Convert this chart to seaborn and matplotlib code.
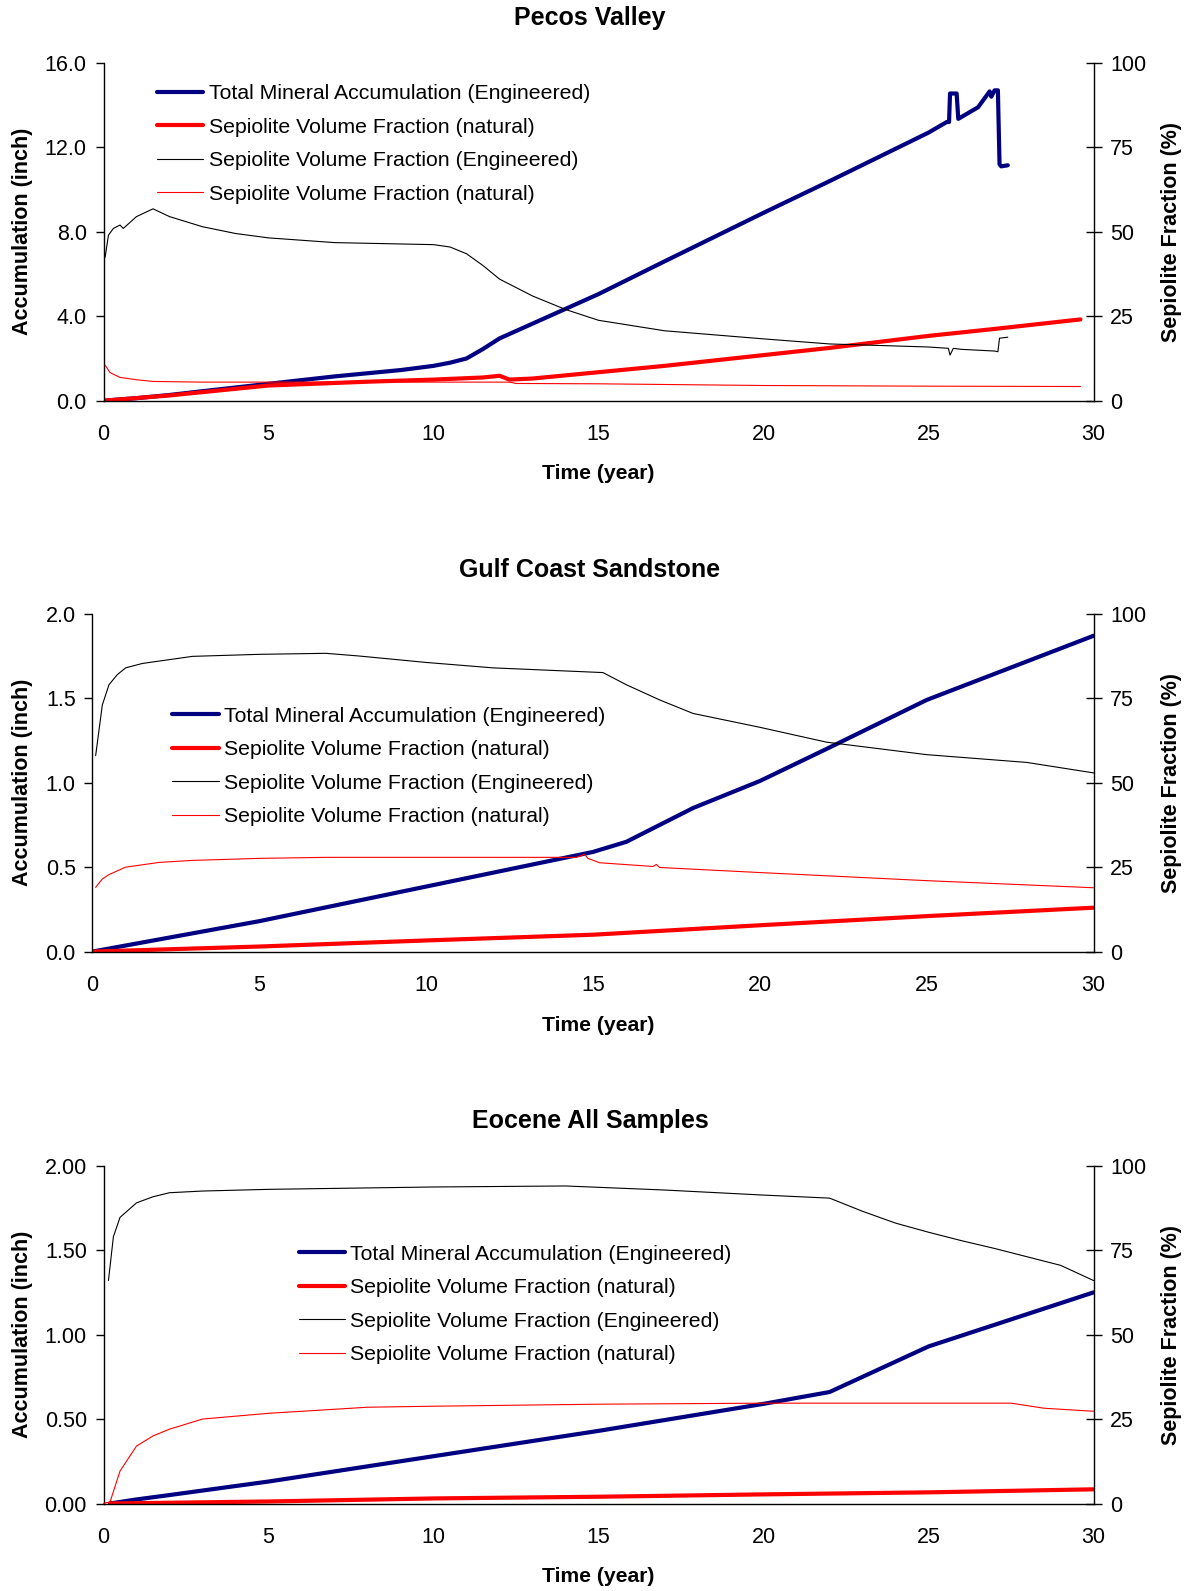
import numpy as np
import pandas as pd
import matplotlib
matplotlib.use('Agg')
import matplotlib.pyplot as plt
import seaborn as sns

sns.set_style('white')
plt.rcParams['font.family'] = ['Liberation Sans', 'DejaVu Sans']
plt.rcParams['text.color'] = '#000000'
plt.rcParams['axes.labelcolor'] = '#000000'
plt.rcParams['xtick.color'] = '#000000'
plt.rcParams['ytick.color'] = '#000000'

# ---------------- Pecos Valley ----------------
pv_tot_t = [0, 1, 2, 3, 5, 7, 9, 10, 10.5, 11, 11.5, 12, 13, 14, 15, 17, 20, 22, 25, 25.55,
            25.62, 25.65, 25.85, 25.9, 26.5, 26.85, 26.9, 27.0, 27.1, 27.15, 27.2, 27.4]
pv_tot_v = [0, 0.12, 0.27, 0.45, 0.8, 1.15, 1.45, 1.65, 1.8, 2.0, 2.45, 2.95, 3.65, 4.35, 5.05,
            6.6, 8.9, 10.4, 12.7, 13.2, 13.2, 14.55, 14.55, 13.35, 13.9, 14.65, 14.4, 14.7, 14.7, 11.2, 11.1, 11.15]
pv_nat_t = [0, 2, 5, 8, 10, 11.5, 12.0, 12.3, 13, 15, 17, 20, 22, 25, 27, 29.6]
pv_nat_v = [0, 0.25, 0.72, 0.9, 1.0, 1.1, 1.18, 1.0, 1.05, 1.35, 1.65, 2.16, 2.5, 3.07, 3.4, 3.85]
pv_eng_t = [0.05, 0.15, 0.3, 0.5, 0.6, 1.0, 1.5, 2.0, 3, 4, 5, 7, 9, 10, 10.5, 11, 11.5, 12, 13, 14,
            15, 17, 20, 22, 25, 25.6, 25.65, 25.75, 26, 27, 27.1, 27.15, 27.4]
pv_eng_v = [42.5, 49, 51, 52, 51, 54.5, 56.8, 54.5, 51.5, 49.5, 48.2, 46.8, 46.4, 46.2, 45.5, 43.5,
            40, 36, 31, 27, 23.8, 20.7, 18.3, 16.8, 15.9, 15.5, 13.5, 15.5, 15.2, 14.7, 14.5, 18.5, 18.8]
pv_fnat_t = [0.05, 0.2, 0.5, 1.0, 1.5, 3, 6, 9, 12.3, 12.5, 15, 17, 20, 25, 29.6]
pv_fnat_v = [10.5, 8.3, 6.9, 6.2, 5.7, 5.5, 5.5, 5.5, 5.5, 5.1, 5.0, 4.8, 4.5, 4.3, 4.2]

# ---------------- Gulf Coast Sandstone ----------------
gc_tot_t = [0, 5, 10, 15, 15.5, 16, 17, 18, 20, 22, 25, 30]
gc_tot_v = [0, 0.18, 0.385, 0.59, 0.62, 0.65, 0.75, 0.85, 1.01, 1.2, 1.49, 1.87]
gc_nat_t = [0, 5, 10, 15, 20, 25, 30]
gc_nat_v = [0, 0.03, 0.066, 0.10, 0.156, 0.21, 0.26]
gc_eng_t = [0.1, 0.3, 0.5, 0.75, 1, 1.5, 2, 3, 5, 7, 8, 10, 12, 15.3, 16, 17, 18, 20, 22, 25, 28, 30]
gc_eng_v = [58, 73, 79, 82, 84, 85.3, 86, 87.4, 88, 88.3, 87.5, 85.6, 84, 82.6, 79, 74.5, 70.5,
            66.4, 62, 58.3, 56, 52.9]
gc_fnat_t = [0.1, 0.3, 0.5, 1, 2, 3, 5, 7, 14.5, 14.75, 14.85, 15.2, 16.8, 16.9, 17.0, 20, 25, 30]
gc_fnat_v = [19, 21.5, 22.8, 25, 26.4, 27, 27.6, 27.9, 27.9, 28.8, 27.6, 26.3, 25.2, 25.8, 24.9,
             23.4, 21, 18.9]

# ---------------- Eocene All Samples ----------------
eo_tot_t = [0.2, 1, 2, 5, 10, 15, 20, 22, 25, 30]
eo_tot_v = [0, 0.024, 0.05, 0.13, 0.28, 0.43, 0.59, 0.66, 0.93, 1.25]
eo_nat_t = [0.2, 5, 10, 15, 20, 25, 30]
eo_nat_v = [0, 0.012, 0.03, 0.04, 0.054, 0.066, 0.084]
eo_eng_t = [0.15, 0.3, 0.5, 1, 1.5, 2, 3, 5, 10, 14, 17, 20, 22, 23, 24, 25, 26, 27, 28, 29, 30]
eo_eng_v = [66, 79, 84.7, 89, 90.8, 92, 92.5, 93, 93.7, 94, 92.8, 91.3, 90.4, 86.5, 83, 80.3,
            77.8, 75.5, 73, 70.5, 66]
eo_fnat_t = [0, 0.2, 0.5, 1, 1.5, 2, 3, 5, 8, 10, 15, 20, 27.5, 28.5, 30]
eo_fnat_v = [0, 0.5, 9.6, 17, 20, 22, 25, 26.7, 28.5, 28.8, 29.4, 29.7, 29.7, 28.2, 27.3]

labels = ['Total Mineral Accumulation (Engineered)',
          'Sepiolite Volume Fraction (natural)',
          'Sepiolite Volume Fraction (Engineered)',
          'Sepiolite Volume Fraction (natural)']

panels = [
    dict(title='Pecos Valley', rect=[103.5, 62.9, 1093.6, 400.7], ylim=16.0,
         yticks=[0, 4, 8, 12, 16], fmt='{:.1f}', leg=(0.054, 0.937), title_y=18, xlab_y=473,
         data=[(pv_tot_t, pv_tot_v), (pv_nat_t, pv_nat_v), (pv_eng_t, pv_eng_v), (pv_fnat_t, pv_fnat_v)]),
    dict(title='Gulf Coast Sandstone', rect=[92.3, 613.8, 1093.6, 951.6], ylim=2.0,
         yticks=[0, 0.5, 1.0, 1.5, 2.0], fmt='{:.1f}', leg=(0.08, 0.725), title_y=570, xlab_y=1025,
         data=[(gc_tot_t, gc_tot_v), (gc_nat_t, gc_nat_v), (gc_eng_t, gc_eng_v), (gc_fnat_t, gc_fnat_v)]),
    dict(title='Eocene All Samples', rect=[103.5, 1165.7, 1093.6, 1503.5], ylim=2.0,
         yticks=[0, 0.5, 1.0, 1.5, 2.0], fmt='{:.2f}', leg=(0.197, 0.766), title_y=1121, xlab_y=1576,
         data=[(eo_tot_t, eo_tot_v), (eo_nat_t, eo_nat_v), (eo_eng_t, eo_eng_v), (eo_fnat_t, eo_fnat_v)]),
]

W, H = 1189, 1591
fig = plt.figure(figsize=(W / 100, H / 100), dpi=100)
fig.patch.set_facecolor('white')

styles = [dict(color='#000080', lw=3.0), dict(color='#ff0000', lw=3.0),
          dict(color='#000000', lw=0.8), dict(color='#ff0000', lw=0.8)]

for p in panels:
    x0, y0, x1, y1 = p['rect']
    ax = fig.add_axes([x0 / W, 1 - y1 / H, (x1 - x0) / W, (y1 - y0) / H])
    ax2 = ax.twinx()
    handles = []
    for i, ((t, v), st) in enumerate(zip(p['data'], styles)):
        target = ax if i < 2 else ax2
        sns.lineplot(x=t, y=v, ax=target, color=st['color'], linewidth=st['lw'],
                     estimator=None, sort=False)
        handles.append(plt.Line2D([], [], color=st['color'], lw=st['lw']))

    ax.set_xlim(0, 30)
    ax.set_ylim(0, p['ylim'])
    ax2.set_ylim(0, 100)
    ax.set_xticks([0, 5, 10, 15, 20, 25, 30])
    ax.set_yticks(p['yticks'])
    ax.set_yticklabels([p['fmt'].format(y) for y in p['yticks']])
    ax2.set_yticks([0, 25, 50, 75, 100])

    for a in (ax, ax2):
        a.set_facecolor('none')
        a.spines['top'].set_visible(False)
        for s in ['left', 'right', 'bottom']:
            a.spines[s].set_color('#000000')
            a.spines[s].set_linewidth(1.0)
    ax.spines['right'].set_visible(False)
    ax2.spines['left'].set_visible(False)
    ax2.spines['bottom'].set_visible(False)

    ax.tick_params(axis='x', direction='in', length=6, width=1, labelsize=15.5, pad=17)
    ax.tick_params(axis='y', direction='out', length=6, width=1, labelsize=15.5, pad=6)
    ax2.tick_params(axis='y', direction='inout', length=12, width=1, labelsize=15.5, pad=6)

    ax.set_xlabel('Time (year)', fontsize=15.2, fontweight='bold')
    ax.xaxis.set_label_coords((598 - x0) / (x1 - x0), -(p['xlab_y'] - 9 - y1) / (y1 - y0))
    ax.set_ylabel('Accumulation (inch)', fontsize=15.5, fontweight='bold')
    ax.yaxis.set_label_coords((33 - x0) / (x1 - x0), 0.5)
    ax2.set_ylabel('Sepiolite Fraction (%)', fontsize=15.5, fontweight='bold', rotation=90)
    ax2.yaxis.set_label_coords((1161 - x0) / (x1 - x0), 0.5)

    fig.text(590 / W, 1 - p['title_y'] / H, p['title'], ha='center', va='center',
             fontsize=18, fontweight='bold')

    ax2.legend(handles, labels, loc='upper left', bbox_to_anchor=p['leg'], frameon=False,
               fontsize=15.3, handlelength=2.18, handletextpad=0.25, labelspacing=0.68,
               borderpad=0, borderaxespad=0)

fig.savefig('out.png', dpi=100)
